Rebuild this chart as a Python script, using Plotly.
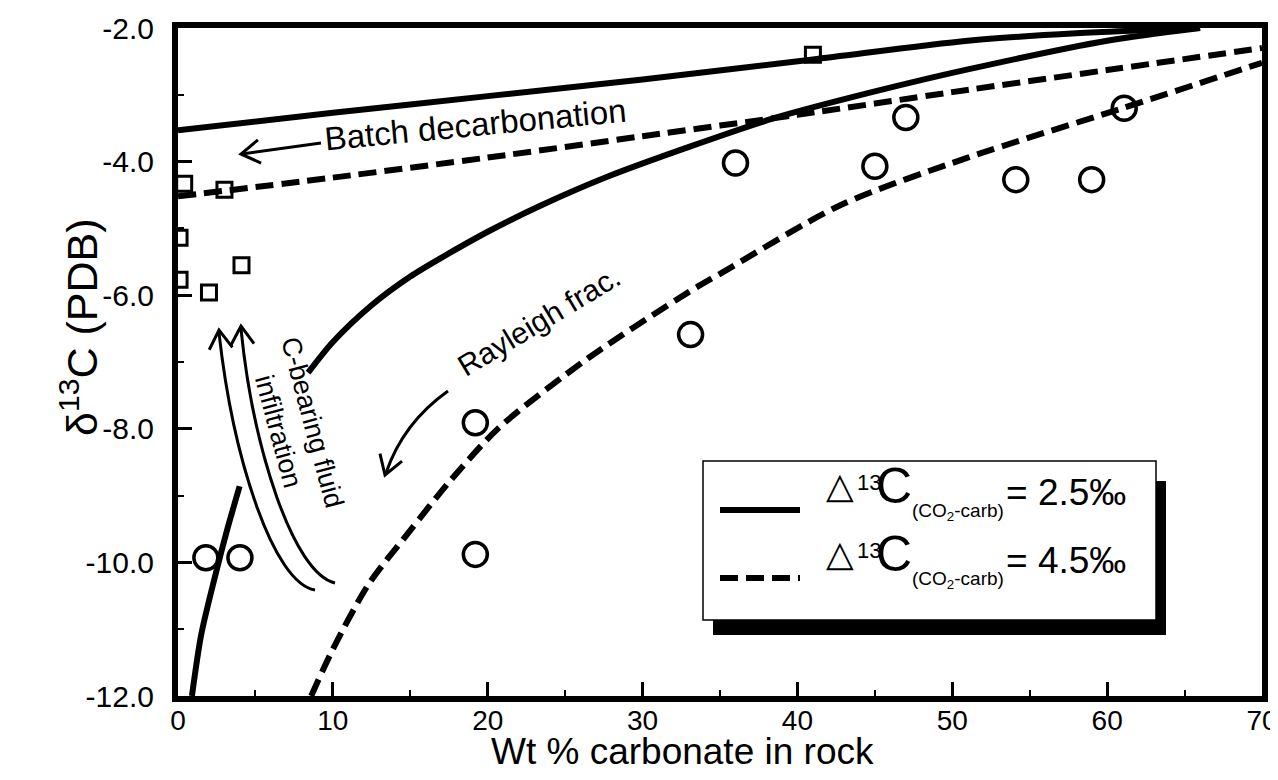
import math
import plotly.graph_objects as go

# ---------------- data ----------------
sq_x = [0.4, 3.0, 0.1, 0.1, 2.0, 4.1, 41.0]
sq_y = [-4.33, -4.42, -5.14, -5.77, -5.96, -5.55, -2.40]

circ_x = [1.8, 4.0, 19.2, 19.2, 33.1, 36.0, 45.0, 47.0, 54.1, 59.0, 61.1]
circ_y = [-9.93, -9.93, -7.91, -9.88, -6.59, -4.02, -4.07, -3.34, -4.27, -4.27, -3.20]

batch25_x = [0, 10, 20, 30, 41, 51, 58, 66]
batch25_y = [-3.53, -3.27, -3.02, -2.77, -2.47, -2.19, -2.08, -2.00]

batch45_x = [0, 10, 20, 30, 40, 50, 60, 70]
batch45_y = [-4.52, -4.24, -3.94, -3.62, -3.30, -2.96, -2.63, -2.30]

ray25_x = [0.9, 1.5, 2.37, 3.2, 3.98, None, 8.4, 10, 12.5, 15, 17, 20, 23.5, 27.8, 33, 38.5, 45, 51, 60, 66]
ray25_y = [-12.0, -11.08, -10.23, -9.49, -8.86, None, -7.16, -6.70, -6.15, -5.72, -5.44, -5.05, -4.65,
           -4.22, -3.78, -3.35, -2.95, -2.62, -2.19, -2.00]

ray45_x = [8.6, 10, 12.3, 14.9, 17.5, 20.7, 26.5, 33, 35, 42.8, 51, 61, 70]
ray45_y = [-12.0, -11.3, -10.33, -9.55, -8.80, -7.99, -6.94, -5.95, -5.68, -4.65, -3.94, -3.20, -2.52]

x_ticks = [0, 10, 20, 30, 40, 50, 60, 70]
y_ticks = [-12, -10, -8, -6, -4, -2]

legend_labels = ["2.5‰", "4.5‰"]

# ---------------- geometry helpers (layout only) ----------------
W, H = 1278, 780
L, R, T, B = 170, 1254, 20, 688
XMIN, XMAX, YMIN, YMAX = 0, 70, -12, -2


def X(px):
    return XMIN + (px - L) / (R - L) * (XMAX - XMIN)


def Y(py):
    return YMAX - (py - T) / (B - T) * (YMAX - YMIN)


def PX(px):
    return (px - L) / (R - L)


def PY(py):
    return (B - py) / (B - T)


def vhead(hx, hy, dx, dy, length=22, ang=32):
    n = math.hypot(dx, dy)
    ux, uy = -dx / n, -dy / n
    pts = []
    for s in (1, -1):
        a = math.radians(ang * s)
        wx = ux * math.cos(a) - uy * math.sin(a)
        wy = ux * math.sin(a) + uy * math.cos(a)
        pts.append((hx + wx * length, hy + wy * length))
    (x1, y1), (x2, y2) = pts
    return (f"M {X(x1)},{Y(y1)} L {X(hx)},{Y(hy)} L {X(x2)},{Y(y2)}")


def cubic(p0, p1, p2, p3):
    return (f"M {X(p0[0])},{Y(p0[1])} C {X(p1[0])},{Y(p1[1])} "
            f"{X(p2[0])},{Y(p2[1])} {X(p3[0])},{Y(p3[1])}")


FONT = "Liberation Sans, Arial, Helvetica, sans-serif"

fig = go.Figure()

common_line = dict(color="black", width=6)
fig.add_trace(go.Scatter(x=batch25_x, y=batch25_y, mode="lines", line=dict(common_line, shape="spline", smoothing=0.8),
                         showlegend=False, hoverinfo="skip"))
fig.add_trace(go.Scatter(x=batch45_x, y=batch45_y, mode="lines",
                         line=dict(color="black", width=6, dash="18px,8px", shape="spline", smoothing=0.8),
                         showlegend=False, hoverinfo="skip"))
fig.add_trace(go.Scatter(x=ray25_x, y=ray25_y, mode="lines", line=dict(common_line, shape="spline", smoothing=0.8),
                         connectgaps=False, showlegend=False, hoverinfo="skip"))
fig.add_trace(go.Scatter(x=ray45_x, y=ray45_y, mode="lines",
                         line=dict(color="black", width=6, dash="18px,8px", shape="spline", smoothing=0.8),
                         showlegend=False, hoverinfo="skip"))
fig.add_trace(go.Scatter(x=sq_x, y=sq_y, mode="markers",
                         marker=dict(symbol="square-open", size=15, color="black", line=dict(width=3, color="black")),
                         showlegend=False))
fig.add_trace(go.Scatter(x=circ_x, y=circ_y, mode="markers",
                         marker=dict(symbol="circle-open", size=24, color="black", line=dict(width=3.5, color="black")),
                         showlegend=False))

shapes = []
# Batch decarbonation arrow
shapes.append(dict(type="line", xref="x", yref="y", x0=X(313), y0=Y(135), x1=X(234), y1=Y(146),
                   line=dict(color="black", width=3)))
shapes.append(dict(type="path", xref="x", yref="y", path=vhead(233, 146, -80, 11), line=dict(color="black", width=3)))
# Rayleigh arrow (curved)
shapes.append(dict(type="path", xref="x", yref="y",
                   path=f"M {X(440)},{Y(383)} Q {X(395)},{Y(415)} {X(378)},{Y(465)}",
                   line=dict(color="black", width=3)))
shapes.append(dict(type="path", xref="x", yref="y", path=vhead(377, 467, -17, 50), line=dict(color="black", width=3)))
# C-bearing fluid infiltration arrows
shapes.append(dict(type="path", xref="x", yref="y", path=cubic((307, 582), (265, 575), (225, 450), (211, 325)),
                   line=dict(color="black", width=3)))
shapes.append(dict(type="path", xref="x", yref="y", path=vhead(211, 322, -4, -40), line=dict(color="black", width=3)))
shapes.append(dict(type="path", xref="x", yref="y", path=cubic((327, 575), (285, 565), (245, 440), (233, 321)),
                   line=dict(color="black", width=3)))
shapes.append(dict(type="path", xref="x", yref="y", path=vhead(233, 318, -3, -40), line=dict(color="black", width=3)))

# legend box with shadow
shapes.append(dict(type="rect", xref="paper", yref="paper", x0=PX(705), x1=PX(1158), y0=PY(627), y1=PY(473),
                   fillcolor="black", line=dict(width=0)))
shapes.append(dict(type="rect", xref="paper", yref="paper", x0=PX(695), x1=PX(1148), y0=PY(612), y1=PY(453),
                   fillcolor="white", line=dict(color="black", width=1.5)))
shapes.append(dict(type="line", xref="paper", yref="paper", x0=PX(712), x1=PX(792), y0=PY(502), y1=PY(502),
                   line=dict(color="black", width=6)))
shapes.append(dict(type="line", xref="paper", yref="paper", x0=PX(712), x1=PX(792), y0=PY(570), y1=PY(570),
                   line=dict(color="black", width=6, dash="18px,8px")))

ann = []
ann.append(dict(text="Batch decarbonation", x=X(467), y=Y(116), xref="x", yref="y", showarrow=False,
                textangle=-5.5, font=dict(family=FONT, size=33, color="black")))
ann.append(dict(text="Rayleigh frac.", x=X(530), y=Y(313), xref="x", yref="y", showarrow=False,
                textangle=-31, font=dict(family=FONT, size=30, color="black")))
ann.append(dict(text="C-bearing fluid<br>infiltration", x=X(288), y=Y(419), xref="x", yref="y", showarrow=False,
                textangle=75, font=dict(family=FONT, size=27, color="black")))
ann.append(dict(text="δ<sup>13</sup>C (PDB)", x=PX(42), y=PY(320), xref="paper", yref="paper", showarrow=False,
                textangle=-90, font=dict(family=FONT, size=43, color="black")))
ann.append(dict(text="Wt % carbonate in rock", x=PX(674), y=PY(766), xref="paper", yref="paper", showarrow=False,
                font=dict(family=FONT, size=37, color="black")))

for i, lab in enumerate(legend_labels):
    dy = i * 68
    ann.append(dict(text="△", x=PX(816), y=PY(500 + dy), xref="paper", yref="paper", xanchor="left",
                    showarrow=False, font=dict(family="DejaVu Sans", size=36, color="black")))
    ann.append(dict(text="13", x=PX(847), y=PY(489 + dy), xref="paper", yref="paper", xanchor="left",
                    showarrow=False, font=dict(family=FONT, size=22, color="black")))
    ann.append(dict(text="C", x=PX(866), y=PY(508 + dy), xref="paper", yref="paper", xanchor="left",
                    showarrow=False, font=dict(family=FONT, size=50, color="black")))
    ann.append(dict(text="(CO<sub>2</sub>-carb)", x=PX(902), y=PY(518 + dy), xref="paper", yref="paper",
                    xanchor="left", showarrow=False, font=dict(family=FONT, size=19, color="black")))
    ann.append(dict(text="= " + lab, x=PX(996), y=PY(507 + dy), xref="paper", yref="paper", xanchor="left",
                    showarrow=False, font=dict(family=FONT, size=37, color="black")))

axis_common = dict(showline=True, linewidth=6, linecolor="black", mirror=True, ticks="inside",
                   ticklen=14, tickwidth=3, tickcolor="black", showgrid=False, zeroline=False,
                   automargin=False)

fig.update_layout(
    width=W, height=H,
    margin=dict(l=L, r=W - R, t=T, b=H - B, pad=0),
    paper_bgcolor="white", plot_bgcolor="white",
    showlegend=False,
    shapes=shapes, annotations=ann,
    xaxis=dict(axis_common, range=[XMIN, XMAX], tickvals=x_ticks,
               ticktext=[str(v) for v in x_ticks],
               tickfont=dict(family=FONT, size=28, color="black"), ticklabelstandoff=-6,
               minor=dict(ticks="inside", ticklen=6, tickwidth=2, dtick=5, tickcolor="black", showgrid=False)),
    yaxis=dict(axis_common, range=[YMIN, YMAX], tickvals=y_ticks,
               ticktext=[f"{v:.1f}" for v in y_ticks],
               tickfont=dict(family=FONT, size=30, color="black"), ticklabelstandoff=12,
               minor=dict(ticks="inside", ticklen=6, tickwidth=2, dtick=1, tickcolor="black", showgrid=False)),
)

fig.write_html("out.html")
